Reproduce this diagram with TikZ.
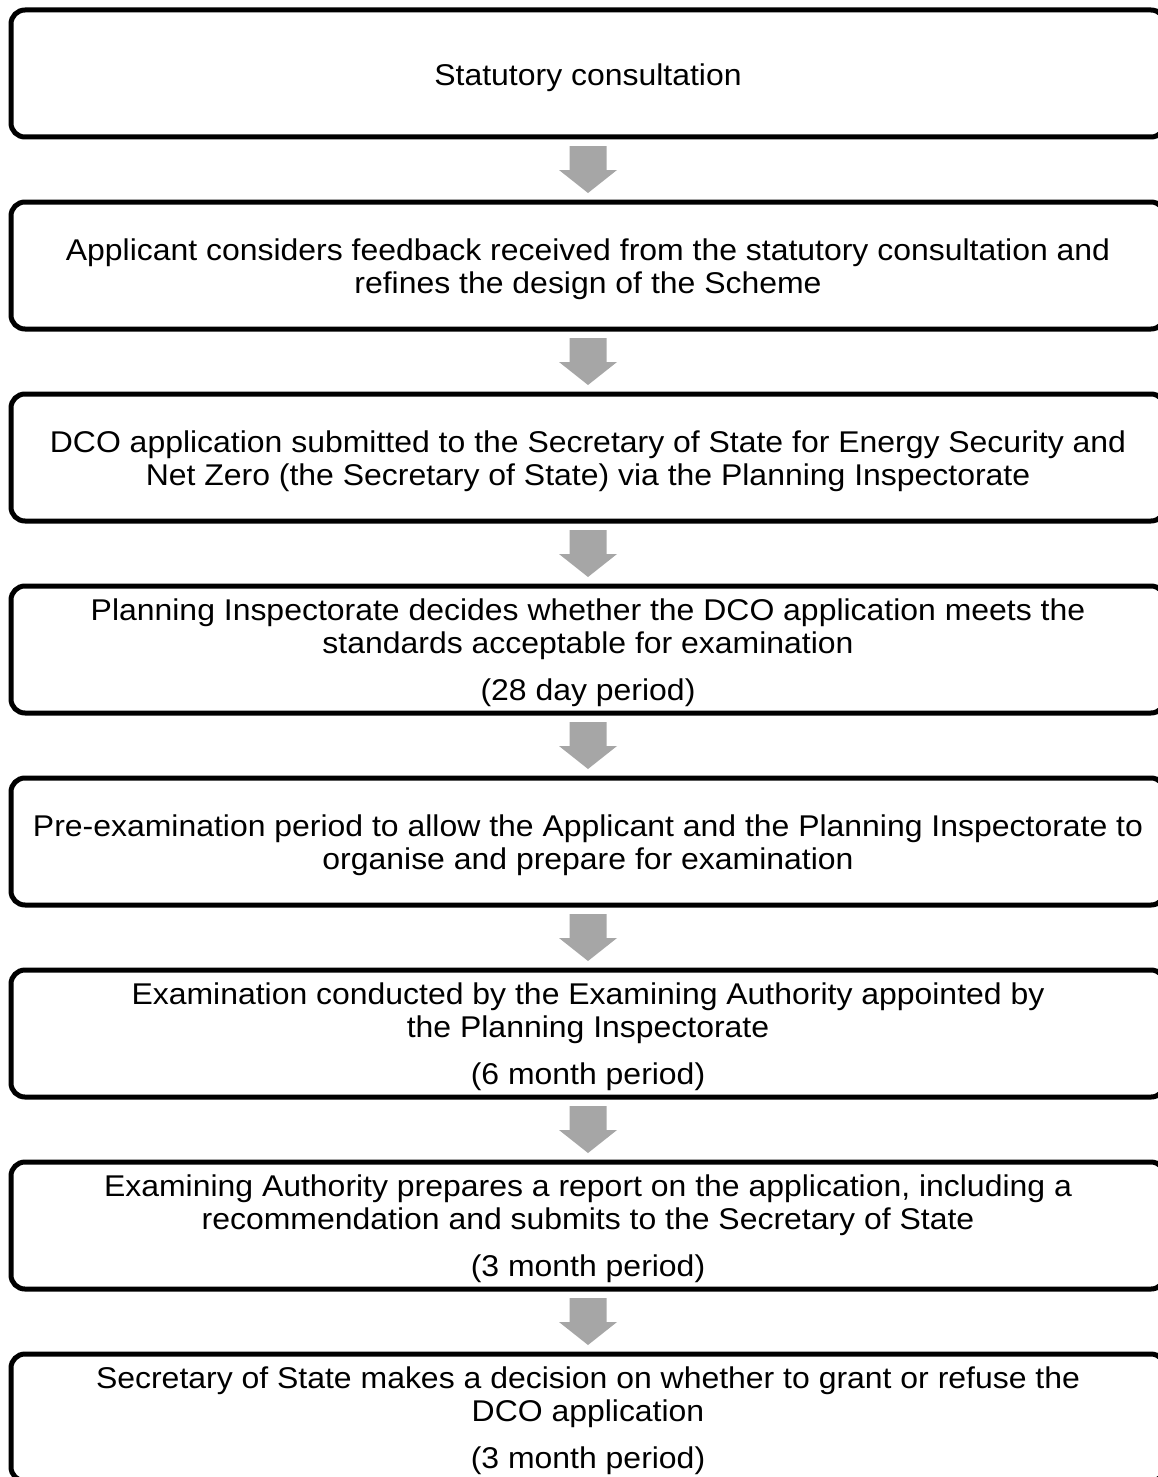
\documentclass[tikz,border=0pt]{standalone}
\usepackage{fontspec}
\setmainfont[FakeStretch=1.065]{Liberation Sans}
\usetikzlibrary{calc}
\definecolor{arrowgray}{HTML}{A6A6A6}
\tikzset{
  stage/.style={draw=black, line width=5pt, rounded corners=14pt, minimum width=1154pt, minimum height=127pt, inner sep=0pt},
  txt/.style={anchor=base, inner sep=0pt, font=\fontsize{30}{33}\selectfont},
  flowarrow/.style={fill=arrowgray}
}
\newcommand{\flowarr}[2]{%
  \coordinate (s) at ($(#1.south)+(0,6.5)$);
  \coordinate (t) at ($(#2.north)-(0,6.5)$);
  \fill[flowarrow] ($(s)+(-18.5,0)$) -- ($(s)+(18.5,0)$) -- ($(t)+(18.5,-23)$) -- ($(t)+(29,-23)$) -- (t) -- ($(t)+(-29,-23)$) -- ($(t)+(-18.5,-23)$) -- cycle;
}
\begin{document}
\begin{tikzpicture}[x=1pt,y=-1pt]
\useasboundingbox (0,0) rectangle (1157,1477);
\fill[white] (0,0) rectangle (1157,1477);
% boxes
\foreach \k in {1,...,8} {
  \node[stage] (b\k) at (588, {73.5+192*(\k-1)}) {};
}
% arrows
\foreach \k [evaluate=\k as \n using int(\k+1)] in {1,...,7} {
  \flowarr{b\k}{b\n}
}
% texts
\node[txt] (t1) at ($(b1.north)+(0,78.5)$) {Statutory consultation};

\node[txt] (t2a) at ($(b2.north)+(0,60.5)$) {Applicant considers feedback received from the statutory consultation and};
\node[txt] (t2b) at ($(b2.north)+(0,93.5)$) {refines the design of the Scheme};

\node[txt] (t3a) at ($(b3.north)+(0,61)$) {DCO application submitted to the Secretary of State for Energy Security and};
\node[txt] (t3b) at ($(b3.north)+(0,94)$) {Net Zero (the Secretary of State) via the Planning Inspectorate};

\node[txt] (t4a) at ($(b4.north)+(0,37)$) {Planning Inspectorate decides whether the DCO application meets the};
\node[txt] (t4b) at ($(b4.north)+(0,70)$) {standards acceptable for examination};
\node[txt] (t4c) at ($(b4.north)+(0,117)$) {(28 day period)};

\node[txt] (t5a) at ($(b5.north)+(0,61)$) {Pre-examination period to allow the Applicant and the Planning Inspectorate to};
\node[txt] (t5b) at ($(b5.north)+(0,94)$) {organise and prepare for examination};

\node[txt] (t6a) at ($(b6.north)+(0,37)$) {Examination conducted by the Examining Authority appointed by};
\node[txt] (t6b) at ($(b6.north)+(0,70)$) {the Planning Inspectorate};
\node[txt] (t6c) at ($(b6.north)+(0,117)$) {(6 month period)};

\node[txt] (t7a) at ($(b7.north)+(0,37)$) {Examining Authority prepares a report on the application, including a};
\node[txt] (t7b) at ($(b7.north)+(0,70)$) {recommendation and submits to the Secretary of State};
\node[txt] (t7c) at ($(b7.north)+(0,117)$) {(3 month period)};

\node[txt] (t8a) at ($(b8.north)+(0,37)$) {Secretary of State makes a decision on whether to grant or refuse the};
\node[txt] (t8b) at ($(b8.north)+(0,70)$) {DCO application};
\node[txt] (t8c) at ($(b8.north)+(0,117)$) {(3 month period)};
\end{tikzpicture}
\end{document}
